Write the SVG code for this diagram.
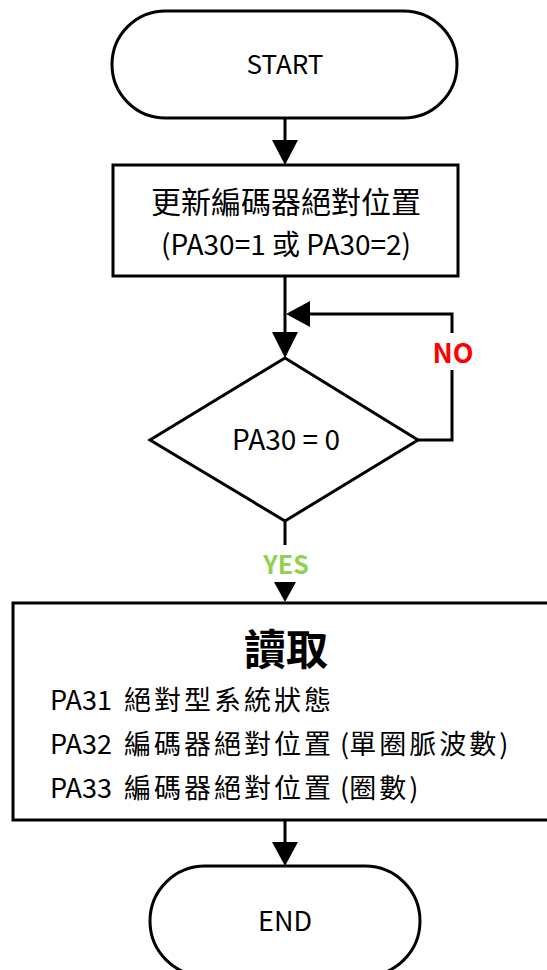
<svg xmlns="http://www.w3.org/2000/svg" width="547" height="970" viewBox="0 0 547 970">
<defs>
<style>
.s{fill:#fff;stroke:#000;stroke-width:3}
.c{fill:none;stroke:#000;stroke-width:3}
.t{font-family:"Noto Sans CJK TC","Noto Sans",sans-serif;fill:#000}
.k{letter-spacing:3px}
</style>
</defs>
<g id="connectors">
<line class="c" x1="285" y1="118" x2="285" y2="140"/>
<path d="M272,140 L298,140 L285,165 Z"/>
<line class="c" x1="285" y1="276" x2="285" y2="332"/>
<path d="M272,332 L298,332 L285,358 Z"/>
<polyline class="c" points="418,440 452,440 452,370"/>
<polyline class="c" points="452,333 452,314 310,314"/>
<path d="M310,301 L310,327 L286,314 Z"/>
<line class="c" x1="285" y1="521" x2="285" y2="545"/>
<path d="M274,582 L296,582 L285,602 Z"/>
<line class="c" x1="285" y1="820" x2="285" y2="842"/>
<path d="M272,842 L298,842 L285,866 Z"/>
<text class="t" x="453" y="363" text-anchor="middle" font-size="27" font-weight="bold" style="fill:#FF0000">NO</text>
<text class="t" x="286" y="574" text-anchor="middle" font-size="25" font-weight="bold" style="fill:#92D050">YES</text>
</g>
<g id="start">
<rect class="s" x="112" y="11" width="345" height="107" rx="53.5" ry="53.5"/>
<text class="t" x="285" y="74" text-anchor="middle" font-size="26">START</text>
</g>
<g id="update">
<rect class="s" x="113" y="165" width="345" height="111"/>
<text class="t" x="286" y="213" text-anchor="middle" font-size="30">更新編碼器絕對位置</text>
<text class="t" x="286" y="255" text-anchor="middle" font-size="28">(PA30=1 或 PA30=2)</text>
</g>
<g id="decision">
<polygon class="s" points="285,358 418,440 285,521 150,440"/>
<text class="t" x="286" y="450" text-anchor="middle" font-size="28">PA30 = 0</text>
</g>
<g id="read">
<rect class="s" x="13" y="603" width="540" height="217"/>
<text class="t" x="286" y="665" text-anchor="middle" font-size="42" font-weight="bold">讀取</text>
<text class="t" x="50" y="710" font-size="27">PA31 <tspan class="k" dx="6">絕對型系統狀態</tspan></text>
<text class="t" x="50" y="754" font-size="27">PA32 <tspan class="k" dx="6">編碼器絕對位置</tspan> (<tspan class="k">單圈脈波數</tspan>)</text>
<text class="t" x="50" y="798" font-size="27">PA33 <tspan class="k" dx="6">編碼器絕對位置</tspan> (<tspan class="k">圈數</tspan>)</text>
</g>
<g id="end">
<rect class="s" x="150" y="866" width="270" height="110" rx="55" ry="55"/>
<text class="t" x="285" y="931" text-anchor="middle" font-size="27">END</text>
</g>
</svg>
